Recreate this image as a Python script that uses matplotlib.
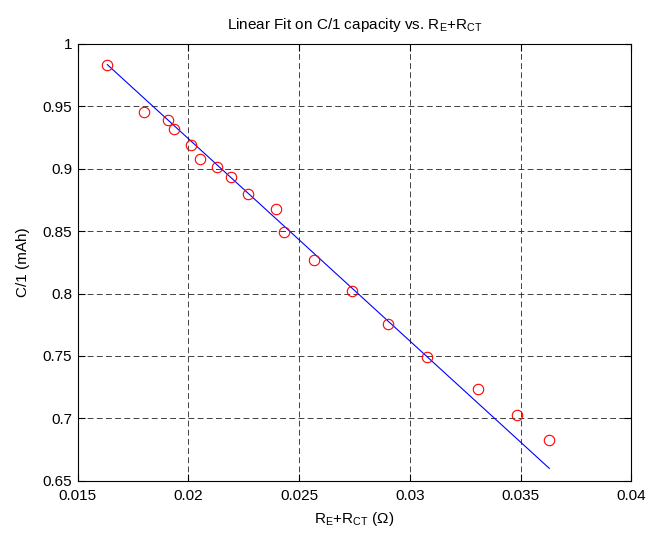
import numpy as np
import matplotlib
matplotlib.use('Agg')
import matplotlib.pyplot as plt

plt.rcParams['font.family'] = ['Liberation Sans', 'DejaVu Sans']
plt.rcParams['mathtext.default'] = 'regular'

# resistance (ohm) vs C/1 capacity (mAh)
resistance = [0.01634, 0.01799, 0.01909, 0.01937, 0.0201, 0.02051, 0.0213,
              0.0219, 0.02271, 0.02396, 0.0243, 0.02568, 0.0274, 0.0290,
              0.03075, 0.03308, 0.03484, 0.03629]
capacity = [0.9834, 0.9455, 0.9394, 0.9319, 0.9188, 0.9079, 0.9015,
            0.8935, 0.8799, 0.8679, 0.8492, 0.8268, 0.8020, 0.7759,
            0.7492, 0.7234, 0.7028, 0.6826]

# fitted line as drawn in the figure (end values)
fit_x = [0.01634, 0.03629]
fit_y = [0.9834, 0.6599]

xticks = [0.015, 0.02, 0.025, 0.03, 0.035, 0.04]
xticklabels = ['0.015', '0.02', '0.025', '0.03', '0.035', '0.04']
yticks = [0.65, 0.7, 0.75, 0.8, 0.85, 0.9, 0.95, 1]
yticklabels = ['0.65', '0.7', '0.75', '0.8', '0.85', '0.9', '0.95', '1']

fig = plt.figure(figsize=(6.58, 5.33), dpi=100)
ax = fig.add_axes([0.118, 0.0981, 0.8417, 0.8195])

ax.plot(fit_x, fit_y, color='blue', lw=0.8, zorder=3)
ax.plot(resistance, capacity, 'o', mfc='none', mec='red', ms=7.5, mew=0.8,
        zorder=4)

ax.set_xlim(0.015, 0.04)
ax.set_ylim(0.65, 1)
ax.set_xticks(xticks)
ax.set_xticklabels(xticklabels)
ax.set_yticks(yticks)
ax.set_yticklabels(yticklabels)
ax.grid(True, color='#222222', linestyle=(0, (7, 4)), lw=0.6)
ax.tick_params(direction='in', top=True, right=True, length=5, width=0.8,
               labelsize=11)
ax.tick_params(axis='x', pad=6)
ax.tick_params(axis='y', pad=4)
for s in ax.spines.values():
    s.set_linewidth(0.8)

ax.set_title('Linear Fit on C/1 capacity vs. R$_E$+R$_{CT}$', fontsize=11,
             pad=11)
ax.set_xlabel('R$_E$+R$_{CT}$ ($\\Omega$)', fontsize=11, labelpad=5)
ax.set_ylabel('C/1 (mAh)', fontsize=11, labelpad=9)

fig.savefig('out.png', dpi=100)
